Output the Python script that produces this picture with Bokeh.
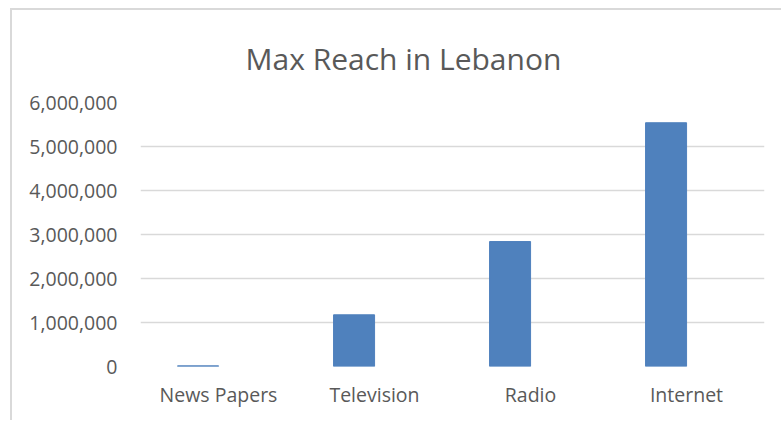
from bokeh.plotting import figure
from bokeh.models import FactorRange, Range1d, NumeralTickFormatter, FixedTicker
from bokeh.transform import dodge
from bokeh.embed import file_html
from bokeh.resources import INLINE

categories = ["News Papers", "Television", "Radio", "Internet"]
reach = [15000, 1175000, 2840000, 5540000]
y_ticks = [0, 1000000, 2000000, 3000000, 4000000, 5000000, 6000000]
title_text = "Max Reach in Lebanon"

TEXT = "#595959"
GRID = "#D9D9D9"
BAR = "#4F81BD"
FONT = "Open Sans"

p = figure(
    x_range=FactorRange(*categories, range_padding=0),
    y_range=Range1d(0, 6000000),
    width=771, height=412,
    output_backend="svg", toolbar_location=None,
    min_border_left=128, min_border_right=19, min_border_top=92, min_border_bottom=56,
    title=title_text,
)
p.styles = {"margin-left": "10px", "margin-top": "8px",
            "border-left": "2px solid #D9D9D9", "border-top": "2px solid #D9D9D9"}

p.vbar(x=dodge("cat", -0.131, range=p.x_range), top="val", width=0.263,
       source=dict(cat=categories, val=reach), color=BAR, line_color=BAR)

p.title.align = "left"
p.title.offset = 105
p.title.text_font = FONT
p.title.text_font_size = "30px"
p.title.text_font_style = "normal"
p.title.text_color = TEXT
p.title.standoff = 48

p.outline_line_color = None
p.background_fill_color = "white"
p.border_fill_color = "white"

p.xgrid.grid_line_color = None
p.ygrid.grid_line_color = GRID
p.ygrid.grid_line_width = 1.5
p.yaxis.ticker = FixedTicker(ticks=y_ticks)
p.yaxis.formatter = NumeralTickFormatter(format="0,0")

for ax in (p.xaxis, p.yaxis):
    ax.axis_line_color = None
    ax.major_tick_line_color = None
    ax.minor_tick_line_color = None
    ax.major_label_text_font = FONT
    ax.major_label_text_font_size = "19.5px"
    ax.major_label_text_color = TEXT

p.yaxis.major_label_standoff = 17
p.xaxis.major_label_standoff = 8

open("out.html", "w").write(file_html(p, INLINE))
